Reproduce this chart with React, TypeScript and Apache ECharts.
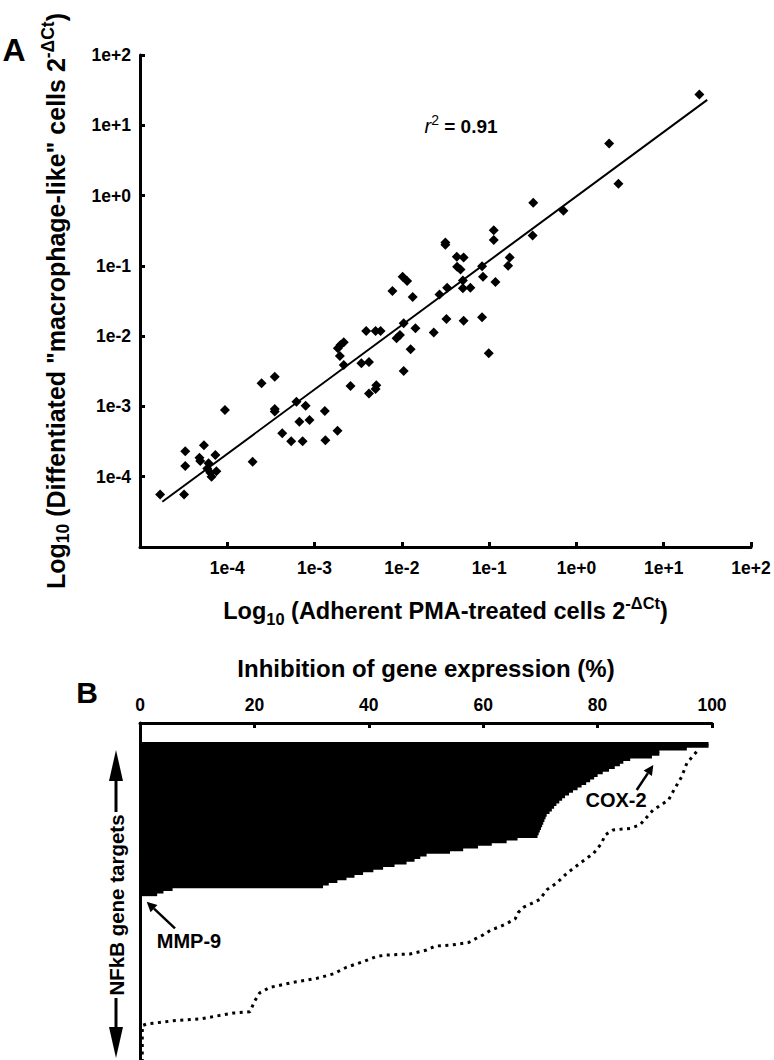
import React, { useEffect, useRef } from 'react';
import * as echarts from 'echarts';

// ---------- Panel A: scatter of 2^-ΔCt values ----------
const adherentX = [
  1.7e-5, 3.2e-5, 3.3e-5, 3.3e-5, 5.4e-5, 4.8e-5, 4.9e-5, 6.1e-5, 5.9e-5, 7.3e-5,
  6.6e-5, 7.5e-5, 6.4e-5, 9.4e-5, 1.95e-4, 2.47e-4, 3.5e-4, 3.5e-4, 3.5e-4, 4.26e-4,
  5.4e-4, 6.2e-4, 7.9e-4, 6.7e-4, 8.75e-4, 7.3e-4, 1.31e-3, 1.33e-3, 1.83e-3, 2.58e-3,
  2.16e-3, 1.95e-3, 1.85e-3, 1.98e-3, 2.16e-3, 3.44e-3, 4.2e-3, 4.2e-3, 5.1e-3, 5.0e-3,
  3.9e-3, 5.0e-3, 5.7e-3, 7.8e-3, 1.15e-2, 1.33e-2, 1.05e-2, 8.7e-3, 9.5e-3, 1.43e-2,
  1.26e-2, 1.05e-2, 2.32e-2, 3.24e-2, 5.1e-2, 8.3e-2, 9.9e-2, 2.7e-2, 3.3e-2, 5.0e-2,
  5.0e-2, 6.1e-2, 8.5e-2, 0.118, 1.02e-2, 3.15e-2, 3.15e-2, 4.26e-2, 5.1e-2, 4.3e-2,
  4.7e-2, 8.3e-2, 0.172, 0.165, 0.113, 0.113, 0.315, 0.32, 0.71, 2.37,
  3.03, 25.6,
];
const macrophageY = [
  5.6e-5, 5.6e-5, 2.3e-4, 1.42e-4, 2.8e-4, 1.86e-4, 1.67e-4, 1.55e-4, 1.31e-4, 2.04e-4,
  1.0e-4, 1.2e-4, 1.14e-4, 8.9e-4, 1.63e-4, 2.13e-3, 2.64e-3, 9.2e-4, 8.5e-4, 4.14e-4,
  3.2e-4, 1.17e-3, 1.02e-3, 6.05e-4, 6.4e-4, 3.2e-4, 8.6e-4, 3.3e-4, 4.5e-4, 1.95e-3,
  3.9e-3, 5.2e-3, 6.7e-3, 7.5e-3, 8.2e-3, 4.1e-3, 4.3e-3, 1.53e-3, 2.0e-3, 1.77e-3,
  1.18e-2, 1.18e-2, 1.18e-2, 4.4e-2, 6.1e-2, 3.6e-2, 1.52e-2, 9.3e-3, 1.04e-2, 1.29e-2,
  6.5e-3, 3.2e-3, 1.13e-2, 1.75e-2, 1.66e-2, 1.85e-2, 5.7e-3, 3.9e-2, 4.9e-2, 6.2e-2,
  4.8e-2, 4.9e-2, 7.0e-2, 5.9e-2, 7.0e-2, 0.2, 0.215, 0.135, 0.132, 9.7e-2,
  8.9e-2, 9.9e-2, 0.132, 0.1, 0.32, 0.233, 0.27, 0.79, 0.61, 5.5,
  1.47, 27.5,
];
const fitLineX = [1.8e-5, 31.5];
const fitLineY = [4.4e-5, 23];
const rSquared = '0.91';

// ---------- Panel B: inhibition of NFkB target genes ----------
const geneCount = 120;
const inhibitionBars = [
  99.4, 99.4, 95.6, 90.8, 90.8, 89.5, 85.7, 84.5, 83.9, 83.0,
  82.0, 80.9, 80.0, 79.4, 78.7, 78.0, 77.2, 76.5, 75.7, 75.0,
  74.3, 73.8, 73.3, 72.8, 72.4, 72.0, 71.6, 71.1, 70.9, 70.7,
  70.5, 70.3, 70.1, 69.9, 69.7, 69.5, 66.0, 64.1, 61.5, 59.1,
  56.5, 54.2, 50.1, 49.0, 48.0, 46.6, 44.5, 42.5, 40.8, 39.0,
  37.5, 36.1, 34.5, 33.0, 32.0, 5.7, 4.1, 3.0,
];
const dottedValue = [
  97.3, 95.6, 94.7, 93.5, 92.4, 89.7, 87.4, 85.7, 82.7, 81.3,
  80.7, 79.3, 76.9, 74.6, 72.8, 71.1, 69.9, 68.5, 67.0, 66.1,
  65.6, 64.2, 62.9, 61.4, 60.0, 58.6, 57.4, 54.5, 51.6, 50.1,
  47.2, 43.1, 41.4, 39.0, 36.1, 33.8, 30.9, 26.8, 22.7, 20.9,
  20.1, 19.2, 16.3, 10.5, 5.8, 1.2, 0.4, 0.4,
];
const dottedRank = [
  3.7, 8.0, 13.1, 17.5, 21.9, 25.7, 31.3, 32.6, 33.2, 35.1,
  38.2, 42.0, 45.8, 49.6, 53.3, 55.8, 59.4, 60.9, 62.4, 64.4,
  66.7, 68.4, 69.7, 70.9, 72.8, 74.3, 75.7, 76.6, 77.0, 78.5,
  80.0, 80.4, 80.9, 82.9, 85.0, 87.5, 89.2, 90.7, 92.6, 94.7,
  97.6, 101.8, 102.3, 104.5, 105.2, 106.4, 107.0, 120,
];
const geneLabels = Array.from({ length: geneCount }, (_, i) => 'gene ' + (i + 1));

const FONT = 'Liberation Sans, Arial, Helvetica, sans-serif';

const logLabel = (v: number) => {
  const e = Math.round(Math.log10(v));
  return '1e' + (e >= 0 ? '+' : '') + e;
};

const makeRich = (size: number) => ({
  t: { fontSize: size, fontWeight: 'bold', fontFamily: FONT, color: '#000', lineHeight: size + 8 },
  s: { fontSize: size * 0.7, fontWeight: 'bold', fontFamily: FONT, color: '#000', lineHeight: size * 0.7, verticalAlign: 'bottom' },
  p: { fontSize: size * 0.7, fontWeight: 'bold', fontFamily: FONT, color: '#000', lineHeight: size * 0.7, verticalAlign: 'top' },
});

const axisLineStyle = { show: true, onZero: false, lineStyle: { color: '#000', width: 3 } };
const tickStyle = { show: true, inside: true, length: 5, lineStyle: { color: '#000', width: 3 } };
const tickLabel = { fontSize: 17.5, fontWeight: 'bold', fontFamily: FONT, color: '#000' };

function arrow(x1: number, y1: number, x2: number, y2: number, headLen: number, headW: number) {
  const dx = x2 - x1;
  const dy = y2 - y1;
  const len = Math.sqrt(dx * dx + dy * dy);
  const ux = dx / len;
  const uy = dy / len;
  const bx = x2 - ux * headLen;
  const by = y2 - uy * headLen;
  return [
    { type: 'line', shape: { x1, y1, x2: bx, y2: by }, style: { stroke: '#000', lineWidth: 2.5 } },
    {
      type: 'polygon',
      shape: { points: [[x2, y2], [bx - uy * headW, by + ux * headW], [bx + uy * headW, by - ux * headW]] },
      style: { fill: '#000' },
    },
  ];
}

export default function App() {
  const ref = useRef<HTMLDivElement>(null);
  useEffect(() => {
    const chart = echarts.init(ref.current!, null, { renderer: 'svg' });
    const option: any = {
      animation: false,
      backgroundColor: '#fff',
      grid: [
        { left: 140, top: 55, width: 611, height: 492 },
        { left: 140, top: 723, width: 572, height: 19 },
        { left: 140, top: 742, width: 572, height: 318 },
      ],
      xAxis: [
        {
          gridIndex: 0, type: 'log', logBase: 10, min: 1e-5, max: 1e2, splitNumber: 7,
          axisLine: axisLineStyle, axisTick: tickStyle,
          axisLabel: { ...tickLabel, formatter: logLabel, showMinLabel: false, margin: 12 },
          splitLine: { show: false }, minorTick: { show: false },
          name: '{t|Log}{s|10}{t| (Adherent PMA-treated cells 2}{p|-ΔCt}{t|)}',
          nameLocation: 'middle', nameGap: 48, nameTextStyle: { rich: makeRich(23.5) },
        },
        {
          gridIndex: 1, type: 'value', min: 0, max: 100, interval: 20, position: 'top',
          axisLine: axisLineStyle, axisTick: tickStyle,
          axisLabel: { ...tickLabel, margin: 9 },
          splitLine: { show: false },
          name: 'Inhibition of gene expression (%)', nameLocation: 'middle', nameGap: 43,
          nameTextStyle: { fontSize: 24, fontWeight: 'bold', fontFamily: FONT, color: '#000' },
        },
        { gridIndex: 2, type: 'value', min: 0, max: 100, show: false },
      ],
      yAxis: [
        {
          gridIndex: 0, type: 'log', logBase: 10, min: 1e-5, max: 1e2, splitNumber: 7,
          axisLine: axisLineStyle, axisTick: tickStyle,
          axisLabel: { ...tickLabel, formatter: logLabel, showMinLabel: false, margin: 9 },
          splitLine: { show: false }, minorTick: { show: false },
          name: '{t|Log}{s|10}{t| (Diffentiated "macrophage-like" cells 2}{p|-ΔCt}{t|)}',
          nameLocation: 'middle', nameRotate: 90, nameGap: 68, nameTextStyle: { rich: makeRich(25) },
        },
        {
          gridIndex: 1, type: 'value', min: 0, max: 1,
          axisLine: axisLineStyle, axisTick: { show: false }, axisLabel: { show: false }, splitLine: { show: false },
        },
        {
          gridIndex: 2, type: 'category', inverse: true, data: geneLabels,
          axisLine: axisLineStyle, axisTick: { show: false }, axisLabel: { show: false }, splitLine: { show: false },
        },
        { gridIndex: 2, type: 'value', min: 0, max: geneCount, inverse: true, show: false },
      ],
      series: [
        {
          type: 'scatter', xAxisIndex: 0, yAxisIndex: 0,
          data: adherentX.map((x, i) => [x, macrophageY[i]]),
          symbol: 'diamond', symbolSize: 10, itemStyle: { color: '#000', opacity: 1 },
        },
        {
          type: 'line', xAxisIndex: 0, yAxisIndex: 0,
          data: fitLineX.map((x, i) => [x, fitLineY[i]]),
          symbol: 'none', lineStyle: { color: '#000', width: 2 },
        },
        {
          type: 'bar', xAxisIndex: 2, yAxisIndex: 2, data: inhibitionBars,
          barWidth: 3.6,
          itemStyle: { color: '#000', opacity: 1 },
        },
        {
          type: 'line', xAxisIndex: 2, yAxisIndex: 3,
          data: dottedValue.map((v, i) => [v, dottedRank[i]]),
          symbol: 'none', lineStyle: { color: '#000', width: 3, type: [3, 4.5] },
        },
      ],
      graphic: [
        { type: 'text', x: 14, y: 50, style: { text: 'A', font: 'bold 32px ' + FONT, fill: '#000', align: 'center', verticalAlign: 'middle' } },
        { type: 'text', x: 87, y: 692, style: { text: 'B', font: 'bold 30px ' + FONT, fill: '#000', align: 'center', verticalAlign: 'middle' } },
        {
          type: 'text', x: 461, y: 126,
          style: {
            text: '{i|r}{p|2}{b| = ' + rSquared + '}', align: 'center', verticalAlign: 'middle',
            rich: {
              i: { fontSize: 20, fontStyle: 'italic', fontFamily: FONT, fill: '#000', lineHeight: 26 },
              p: { fontSize: 14, fontFamily: FONT, fill: '#000', lineHeight: 13, verticalAlign: 'top' },
              b: { fontSize: 19, fontWeight: 'bold', fontFamily: FONT, fill: '#000', lineHeight: 26 },
            },
          },
        },
        { type: 'text', x: 616, y: 800, style: { text: 'COX-2', font: 'bold 20px ' + FONT, fill: '#000', align: 'center', verticalAlign: 'middle' } },
        ...arrow(636.7, 790, 653.3, 765, 10, 5),
        { type: 'text', x: 189, y: 941, style: { text: 'MMP-9', font: 'bold 20px ' + FONT, fill: '#000', align: 'center', verticalAlign: 'middle' } },
        ...arrow(175, 928.3, 146.7, 901.7, 10, 5),
        {
          type: 'text', x: 116, y: 905, rotation: Math.PI / 2,
          style: { text: 'NFkB gene targets', font: 'bold 20.5px ' + FONT, fill: '#000', align: 'center', verticalAlign: 'middle' },
        },
        { type: 'line', shape: { x1: 116, y1: 780, x2: 116, y2: 812 }, style: { stroke: '#000', lineWidth: 3 } },
        { type: 'polygon', shape: { points: [[116, 750], [109, 781], [123, 781]] }, style: { fill: '#000' } },
        { type: 'line', shape: { x1: 116, y1: 998, x2: 116, y2: 1028 }, style: { stroke: '#000', lineWidth: 3 } },
        { type: 'polygon', shape: { points: [[109, 1027], [123, 1027], [116, 1058]] }, style: { fill: '#000' } },
      ],
    };
    chart.setOption(option);
    return () => chart.dispose();
  }, []);
  return (
    <div
      ref={ref}
      style={{ position: 'absolute', left: 0, top: 0, width: 774, height: 1060, background: '#fff' }}
    />
  );
}
